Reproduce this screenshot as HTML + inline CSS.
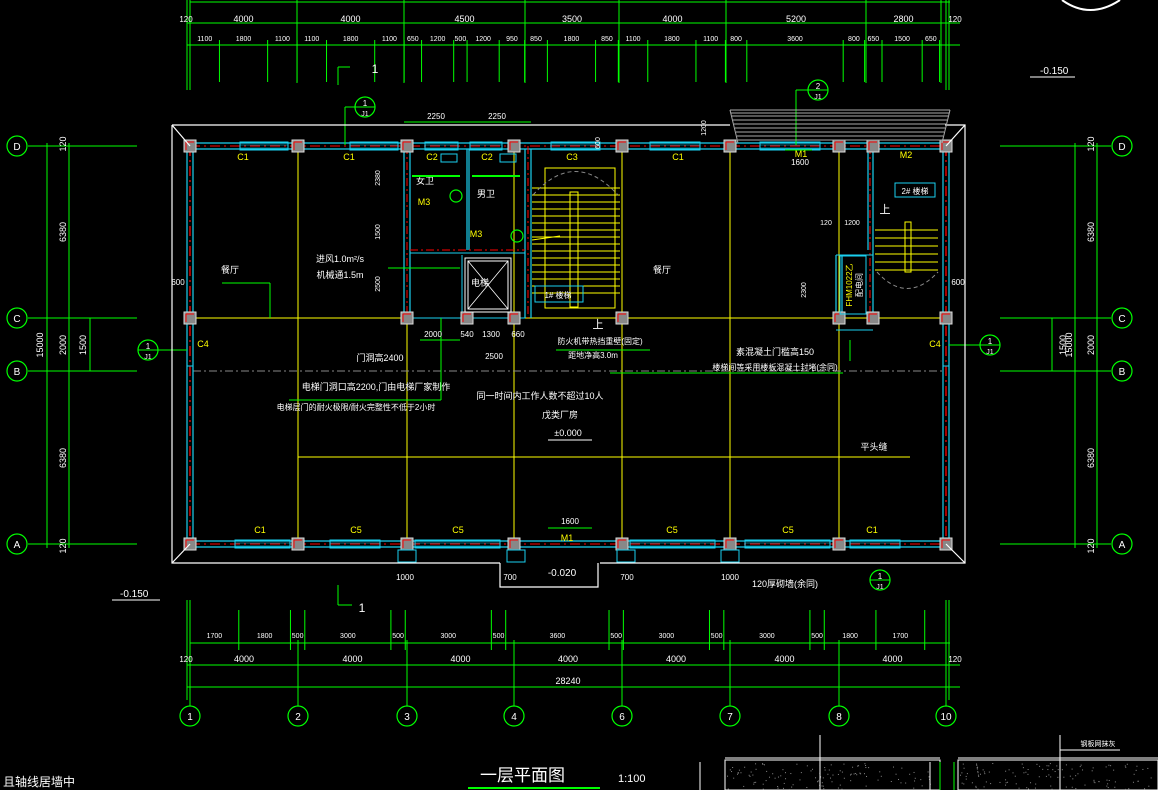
<!DOCTYPE html>
<html><head><meta charset="utf-8">
<style>
html,body{margin:0;padding:0;background:#000;}
svg{display:block;}
text{font-family:"Liberation Sans","Noto Sans CJK SC",sans-serif;}
</style></head>
<body>
<svg id="s" width="1158" height="790" viewBox="0 0 1158 790" xmlns="http://www.w3.org/2000/svg">
<rect width="1158" height="790" fill="#000"/>
<g id="g"></g>
<g stroke="#fff" stroke-width="1.2" fill="none">
<polyline points="172,125 730,125"/>
<polyline points="945,125 965,125 965,563 600,563"/>
<polyline points="500,563 172,563 172,125"/>
<line x1="172" y1="125" x2="190" y2="146"/>
<line x1="172" y1="563" x2="190" y2="544"/>
<line x1="965" y1="125" x2="946" y2="146"/>
<line x1="965" y1="563" x2="946" y2="544"/>
<polyline points="500,563 500,587 598,587 598,563"/>
</g>
<g stroke="#aaa" stroke-width="1">
<line x1="730" y1="110" x2="950" y2="110"/><line x1="731" y1="113" x2="949" y2="113"/>
<line x1="732" y1="116" x2="948" y2="116"/><line x1="733" y1="120" x2="947" y2="120"/>
<line x1="734" y1="124" x2="946" y2="124"/><line x1="735" y1="128" x2="945" y2="128"/>
<line x1="736" y1="132" x2="944" y2="132"/><line x1="737" y1="136" x2="943" y2="136"/>
<line x1="738" y1="140" x2="942" y2="140"/>
<line x1="730" y1="110" x2="738" y2="143"/><line x1="950" y1="110" x2="942" y2="143"/>
</g>
<text x="480" y="781" fill="#fff" font-size="17">一层平面图</text>
<line x1="468" y1="788" x2="600" y2="788" stroke="#0f0" stroke-width="2"/>
<text x="618" y="782" fill="#fff" font-size="11">1:100</text>
<text x="3" y="786" fill="#fff" font-size="12">且轴线居墙中</text>
<text x="1040" y="74" fill="#fff" font-size="10">-0.150</text>
<line x1="1030" y1="77" x2="1075" y2="77" stroke="#fff"/>
<text x="120" y="597" fill="#fff" font-size="10">-0.150</text>
<line x1="112" y1="600" x2="160" y2="600" stroke="#fff"/>
<path d="M1062,0 Q1090,20 1120,0" stroke="#fff" fill="none" stroke-width="2"/>
</svg>
<script>
(function(){
const NS="http://www.w3.org/2000/svg",G=document.getElementById('g');
function el(t,a,txt){const e=document.createElementNS(NS,t);for(const k in a)e.setAttribute(k,a[k]);if(txt!==undefined)e.textContent=txt;G.appendChild(e);return e;}
function L(x1,y1,x2,y2,c,w,d){const a={x1:x1,y1:y1,x2:x2,y2:y2,stroke:c,'stroke-width':w||1};if(d)a['stroke-dasharray']=d;return el('line',a);}
function T(x,y,s,c,fs,anc,rot){const a={x:x,y:y,fill:c||'#fff','font-size':fs||9,'text-anchor':anc||'middle'};if(rot)a.transform='rotate('+rot+' '+x+' '+y+')';return el('text',a,String(s));}
function R(x,y,w,h,c,f,sw){return el('rect',{x:x,y:y,width:w,height:h,stroke:c||'none',fill:f||'none','stroke-width':sw||1});}
function C(x,y,r,c){return el('circle',{cx:x,cy:y,r:r,stroke:c||'#0f0',fill:'none','stroke-width':1.2});}
const GR='#0f0',CY='#1ad0f0',Y='#ff0',RD='#f00',W='#fff';
const gx=[190,298,407,514,622,730,839,946], gl=['1','2','3','4','6','7','8','10'];
[298,514,622,730,839].forEach(function(x){L(x,150,x,540,Y,1);});
L(407,320,407,540,Y,1);
L(193,318,943,318,Y,1);L(298,457,910,457,Y,1);
L(193,371,943,371,'#888',1,'8 3 2 3');
L(187,143,949,143,CY,1.2);L(187,149,949,149,CY,1.2);
L(187,541,949,541,CY,1.2);L(187,547,949,547,CY,1.2);
L(187,143,187,547,CY,1.2);L(193,149,193,541,CY,1.2);
L(943,149,943,541,CY,1.2);L(949,143,949,547,CY,1.2);
L(190,146,946,146,RD,1,'10 4 2 4');L(190,544,946,544,RD,1,'10 4 2 4');
L(190,146,190,544,RD,1.3,'10 4 2 4');L(946,146,946,544,RD,1.3,'10 4 2 4');
[[404,149,404,318],[410,149,410,318],[525,149,525,318],[531,149,531,318],[467,149,467,250],[469,149,469,250],[873,146,873,320],[868,146,868,250],[836,255,836,318],[842,255,842,318]].forEach(function(a){L(a[0],a[1],a[2],a[3],CY,1.2);});
L(407,146,407,318,RD,1,'8 3 2 3');L(528,146,528,318,RD,1,'8 3 2 3');L(870,146,870,318,RD,1,'8 3 2 3');
L(410,250,525,250,RD,1,'8 3 2 3');L(410,253,525,253,CY,1);L(836,255,873,255,CY,1);L(836,330,873,330,CY,1);
L(462,255,462,318,CY,1);L(412,318,525,318,CY,1);
[[240,288,143],[350,398,143],[425,458,143],[470,502,143],[551,600,143],[650,700,143],[760,820,143],[235,290,541],[330,380,541],[415,500,541],[630,715,541],[745,830,541],[850,900,541]].forEach(function(a){R(a[0],a[2]-1,a[1]-a[0],8,CY);L(a[0],a[2]+2,a[1],a[2]+2,CY,.6);L(a[0],a[2]+5,a[1],a[2]+5,CY,.6);});
R(187,320,6,46,CY);R(943,320,6,46,CY);
const cols=[];gx.forEach(function(x){cols.push([x,146]);cols.push([x,544]);});
[190,407,514,622,839,946,873].forEach(function(x){cols.push([x,318]);});cols.push([467,318]);cols.push([873,146]);
cols.forEach(function(p){R(p[0]-6,p[1]-6,12,12,'#ddd','#888',1);L(p[0]-4,p[1]-4,p[0]-4,p[1]+4,RD,1);L(p[0]-4,p[1]-4,p[0]+4,p[1]-4,RD,1);});
[[243,160,'C1'],[349,160,'C1'],[432,160,'C2'],[487,160,'C2'],[572,160,'C3'],[678,160,'C1'],[801,157,'M1'],[906,158,'M2'],[260,533,'C1'],[356,533,'C5'],[458,533,'C5'],[672,533,'C5'],[788,533,'C5'],[872,533,'C1'],[567,541,'M1'],[203,347,'C4'],[935,347,'C4']].forEach(function(a){T(a[0],a[1],a[2],Y,9);});
R(545,168,70,140,Y);
for(let i=0;i<16;i++)L(532,188+i*7,620,188+i*7,Y,1);
R(570,192,8,115,Y);L(532,240,560,236,Y,1);
el('path',{d:'M533,195 Q575,148 618,195',stroke:'#888',fill:'none','stroke-dasharray':'4 3'});
R(535,286,48,16,CY);T(558,298,'1# 楼梯',W,8);T(598,328,'上',W,11);
for(let i=0;i<6;i++)L(875,230+i*8,938,230+i*8,Y,1);
R(905,222,6,50,Y);el('path',{d:'M877,272 Q907,305 938,272',stroke:'#888',fill:'none','stroke-dasharray':'4 3'});
R(895,183,40,14,CY);T(915,194,'2# 楼梯',W,8);T(885,213,'上',W,11);
R(840,256,26,58,CY);T(852,285,'FHM1022乙',Y,8,'middle',-90);T(862,285,'配电间',W,8,'middle',-90);
R(465,258,46,54,W);R(468,261,40,48,W);L(468,261,508,309,W,.8);L(508,261,468,309,W,.8);
T(480,286,'电梯',W,9);
T(425,184,'女卫',W,9);T(486,197,'男卫',W,9);T(424,205,'M3',Y,9);T(476,237,'M3',Y,9);
[[449,158],[508,158]].forEach(function(p){R(p[0]-8,p[1]-4,16,8,CY);});
[[456,196],[517,236]].forEach(function(p){C(p[0],p[1],6,GR);});
L(412,176,460,176,GR,2);L(472,176,520,176,GR,2);
T(230,273,'餐厅',W,9);T(662,273,'餐厅',W,9);T(874,450,'平头缝',W,9);
T(340,262,'进风1.0m²/s',W,9);T(340,278,'机械通1.5m',W,9);
T(380,361,'门洞高2400',W,9);
T(376,390,'电梯门洞口高2200,门由电梯厂家制作',W,9);
T(356,410,'电梯层门的耐火极限/耐火完整性不低于2小时',W,8);
T(540,399,'同一时间内工作人数不超过10人',W,9);
T(560,418,'戊类厂房',W,9);T(568,436,'±0.000',W,9);
L(548,440,592,440,W,1);
T(600,344,'防火机带热挡重壁(固定)',W,8);T(593,358,'距地净高3.0m',W,8);
T(775,355,'素混凝土门槛高150',W,9);T(775,370,'楼梯间等采用楼板混凝土封堵(余同)',W,8);
T(785,587,'120厚砌墙(余同)',W,9);T(562,576,'-0.020',W,10);
[[270,283,270,318],[222,283,270,283],[388,268,460,268],[441,400,441,318],[289,400,441,400],[556,350,650,350],[610,373,843,373],[850,361,850,340],[420,340,460,340]].forEach(function(a){L(a[0],a[1],a[2],a[3],GR,1);});
L(187,0,187,90,GR,1);L(190,0,190,90,GR,1);L(946,0,946,90,GR,1);L(949,0,949,90,GR,1);
L(190,2,950,2,GR,1);L(187,23,960,23,GR,1);L(187,45,960,45,GR,1);
const tp=[190,297,404,525,619,726,866,941];
[4000,4000,4500,3500,4000,5200,2800].forEach(function(v,i){T((tp[i]+tp[i+1])/2,22,v,W,9);L(tp[i+1],0,tp[i+1],83,GR,1);});
T(186,22,'120',W,8);T(955,22,'120',W,8);
let xx=190;[1100,1800,1100,1100,1800,1100,650,1200,500,1200,950,850,1800,850,1100,1800,1100,800,3600,800,650,1500,650].forEach(function(v){const w=v*0.02677;T(xx+w/2,41,v,W,7);xx+=w;L(xx,40,xx,82,GR,1);});
L(187,600,187,700,GR,1);L(190,600,190,700,GR,1);L(946,600,946,700,GR,1);L(949,600,949,700,GR,1);
L(190,643,950,643,GR,1);L(187,665,960,665,GR,1);L(187,687,960,687,GR,1);
gx.slice(0,7).forEach(function(g,i){T((g+gx[i+1])/2,662,'4000',W,9);L(gx[i+1],640,gx[i+1],700,GR,1);});
T(186,662,'120',W,8);T(955,662,'120',W,8);T(568,684,'28240',W,9);
xx=190;[1700,1800,500,3000,500,3000,500,3600,500,3000,500,3000,500,1800,1700].forEach(function(v){const w=v*0.0287;T(xx+w/2,638,v,W,7);xx+=w;L(xx,610,xx,650,GR,1);});
gx.forEach(function(g,i){L(g,690,g,706,GR,1);C(g,716,10);T(g,720,gl[i],W,10);});
[['D',146],['C',318],['B',371],['A',544]].forEach(function(a){const n=a[0],y=a[1];C(17,y,10);T(17,y+4,n,W,10);L(28,y,137,y,GR,1);C(1122,y,10);T(1122,y+4,n,W,10);L(1000,y,1111,y,GR,1);});
L(47,143,47,548,GR,1);L(69,143,69,548,GR,1);L(1075,143,1075,548,GR,1);L(1097,143,1097,548,GR,1);
L(90,318,90,371,GR,1);L(1052,318,1052,371,GR,1);
[[43,345,'15000'],[66,232,'6380'],[66,458,'6380'],[66,345,'2000'],[66,144,'120'],[66,546,'120'],[86,345,'1500'],[1072,345,'15000'],[1094,232,'6380'],[1094,458,'6380'],[1094,345,'2000'],[1094,144,'120'],[1094,546,'120'],[1066,345,'1500']].forEach(function(a){T(a[0],a[1],a[2],W,9,'middle',-90);});
[[365,107,'1'],[148,350,'1'],[990,345,'1'],[880,580,'1'],[818,90,'2']].forEach(function(a){C(a[0],a[1],10);L(a[0]-10,a[1],a[0]+10,a[1],GR,1);T(a[0],a[1]-1,a[2],W,8);T(a[0],a[1]+9,'J1',W,7);});
L(345,107,345,145,GR,1);L(345,107,355,107,GR,1);L(158,350,187,350,GR,1);L(949,345,980,345,GR,1);L(796,90,808,90,GR,1);L(796,90,796,145,GR,1);
T(375,73,'1',W,12);L(338,67,338,85,GR,1);L(338,67,350,67,GR,1);
T(362,612,'1',W,12);L(338,585,338,605,GR,1);L(338,605,352,605,GR,1);
L(404,122,531,122,GR,1);T(436,119,'2250',W,8);T(497,119,'2250',W,8);
L(785,150,812,150,GR,1);T(800,165,'1600',W,8);
L(548,528,592,528,GR,1);T(570,524,'1600',W,8);
T(600,143,'600',W,7,'middle',-90);T(706,128,'1200',W,7,'middle',-90);
T(380,178,'2380',W,7,'middle',-90);T(380,232,'1500',W,7,'middle',-90);T(380,284,'2500',W,7,'middle',-90);
T(806,290,'2300',W,7,'middle',-90);T(826,225,'120',W,7);T(852,225,'1200',W,7);
T(178,285,'600',W,8);T(958,285,'600',W,8);
T(433,337,'2000',W,8);T(467,337,'540',W,8);T(491,337,'1300',W,8);T(518,337,'660',W,8);T(494,359,'2500',W,8);
T(405,580,'1000',W,8);T(510,580,'700',W,8);T(627,580,'700',W,8);T(730,580,'1000',W,8);
[[398,550],[507,550],[617,550],[721,550]].forEach(function(p){R(p[0],p[1],18,12,CY);});
R(725,760,215,30,W,'#000');R(958,760,200,30,W,'#000');
L(725,758,940,758,W,1);L(958,758,1158,758,W,1);
let seed=7;function rnd(){seed=(seed*9301+49297)%233280;return seed/233280;}
for(let i=0;i<120;i++){R(727+rnd()*210,763+rnd()*26,1,1,'none','#888');R(960+rnd()*196,763+rnd()*26,1,1,'none','#888');}
L(820,735,820,790,W,1);L(1060,735,1060,790,W,1);L(1060,750,1120,750,W,1);
T(1098,746,'钢板网抹灰',W,7);
L(700,762,700,790,W,1);L(940,762,940,790,GR,1);L(954,762,954,790,GR,1);L(930,762,930,790,W,1);
})();
</script>
</body></html>
